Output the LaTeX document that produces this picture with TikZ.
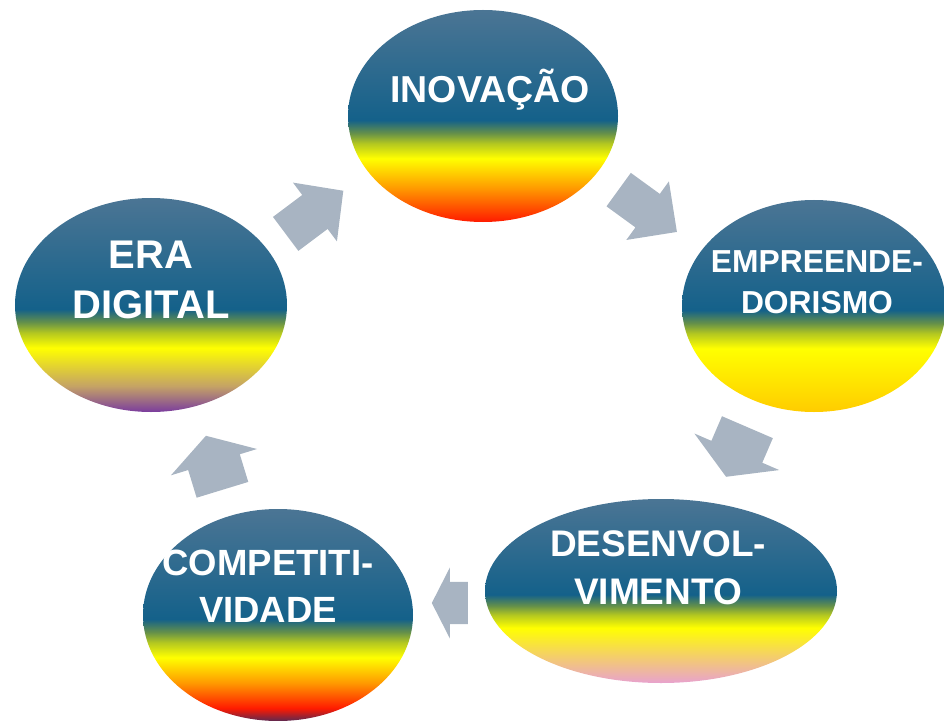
\documentclass[tikz,border=0pt]{standalone}
\usepackage{fontspec}
\setmainfont{Liberation Sans}
\usetikzlibrary{shapes.geometric,shapes.arrows}

\definecolor{slatetop}{HTML}{4B7594}
\definecolor{deepblue}{HTML}{14618A}
\definecolor{bandgreen}{HTML}{64904A}
\definecolor{limeband}{HTML}{B4C820}
\definecolor{sunyellow}{HTML}{FFFF00}
\definecolor{deeporange}{HTML}{FF9A00}
\definecolor{fire}{HTML}{FF1A00}
\definecolor{plum}{HTML}{5C2850}
\definecolor{tanband}{HTML}{C4A266}
\definecolor{violet}{HTML}{7A3C9E}
\definecolor{gold}{HTML}{FFCC00}
\definecolor{apricot}{HTML}{F2C67C}
\definecolor{rosepink}{HTML}{E8A2CE}
\definecolor{arrowgray}{HTML}{A8B4C2}

% every bubble: slate to deep blue on top, a green band into yellow, then its own bottom
\pgfdeclareverticalshading{inovshade}{100bp}{color(0bp)=(fire); color(25bp)=(fire);
  color(33bp)=(deeporange); color(40bp)=(sunyellow); color(43.5bp)=(limeband);
  color(46bp)=(bandgreen); color(49bp)=(deepblue); color(75bp)=(slatetop);
  color(100bp)=(slatetop)}
\pgfdeclareverticalshading{emprshade}{100bp}{color(0bp)=(gold); color(25bp)=(gold);
  color(40bp)=(sunyellow); color(43.5bp)=(limeband);
  color(46bp)=(bandgreen); color(49bp)=(deepblue); color(75bp)=(slatetop);
  color(100bp)=(slatetop)}
\pgfdeclareverticalshading{desenshade}{100bp}{color(0bp)=(rosepink); color(25bp)=(rosepink);
  color(31bp)=(apricot); color(40bp)=(sunyellow); color(43.5bp)=(limeband);
  color(46bp)=(bandgreen); color(49bp)=(deepblue); color(75bp)=(slatetop);
  color(100bp)=(slatetop)}
\pgfdeclareverticalshading{competshade}{100bp}{color(0bp)=(plum); color(25bp)=(plum);
  color(28bp)=(fire); color(34bp)=(deeporange); color(40bp)=(sunyellow); color(43.5bp)=(limeband);
  color(46bp)=(bandgreen); color(49bp)=(deepblue); color(75bp)=(slatetop);
  color(100bp)=(slatetop)}
\pgfdeclareverticalshading{erashade}{100bp}{color(0bp)=(violet); color(25bp)=(violet);
  color(31bp)=(tanband); color(40bp)=(sunyellow); color(43.5bp)=(limeband);
  color(46bp)=(bandgreen); color(49bp)=(deepblue); color(75bp)=(slatetop);
  color(100bp)=(slatetop)}

\tikzset{
  bubble/.style = {ellipse, shade, inner sep=0pt},
  bubbletext/.style = {text=white, align=center, inner sep=0pt},
  cyclearrow/.style = {single arrow, fill=arrowgray, inner xsep=0pt, anchor=tail},
}

\begin{document}
\begin{tikzpicture}[x=1bp, y=-1bp]
\useasboundingbox (0,0) rectangle (944,721);

% Inovacao
\node[bubble, shading=inovshade, minimum width=270bp, minimum height=212bp] (inov) at (483,116) {};
\node[bubbletext, font={\bfseries\fontsize{37.5bp}{48bp}\selectfont}]
  at ([xshift=7bp,yshift=26bp]inov.center) {INOVAÇÃO};

% Empreendedorismo
\node[bubble, shading=emprshade, minimum width=264bp, minimum height=212bp] (empr) at (814,306) {};
\node[bubbletext, font={\bfseries\fontsize{31.8bp}{41bp}\selectfont}]
  at ([xshift=3bp,yshift=24bp]empr.center) {EMPREENDE-\\DORISMO};

% Desenvolvimento
\node[bubble, shading=desenshade, minimum width=352bp, minimum height=184bp] (desen) at (661,591) {};
\node[bubbletext, font={\bfseries\fontsize{37bp}{48bp}\selectfont}]
  at ([xshift=-3bp,yshift=23bp]desen.center) {DESENVOL-\\VIMENTO};

% Competitividade
\node[bubble, shading=competshade, minimum width=270bp, minimum height=212bp] (compet) at (278,615) {};
\node[bubbletext, font={\bfseries\fontsize{36.5bp}{47bp}\selectfont}]
  at ([xshift=-10bp,yshift=29bp]compet.center) {COMPETITI-\\VIDADE};

% Era digital
\node[bubble, shading=erashade, minimum width=272bp, minimum height=214bp] (era) at (151,305) {};
\node[bubbletext, font={\bfseries\fontsize{40bp}{50bp}\selectfont}]
  at ([yshift=25bp]era.center) {ERA\\DIGITAL};

% arrows between the bubbles (shaft = 2 x inner ysep)
\node[cyclearrow, rotate=36.8, minimum height=72bp, inner ysep=21bp,
  single arrow head extend=15.5bp, single arrow tip angle=92] (toinov) at (285.5,234) {};
\node[cyclearrow, rotate=-36, minimum height=72bp, inner ysep=20.5bp,
  single arrow head extend=15.5bp, single arrow tip angle=90] (toempr) at (618.5,189.5) {};
\node[cyclearrow, rotate=-113.3, minimum height=54bp, inner ysep=27.5bp,
  single arrow head extend=18.5bp, single arrow tip angle=119] (todesen) at (747.5,427) {};
\node[cyclearrow, rotate=180, minimum height=36bp, inner ysep=21bp,
  single arrow head extend=14.5bp, single arrow tip angle=126] (tocompet) at (468,603) {};
\node[cyclearrow, rotate=107, minimum height=56.5bp, inner ysep=26.8bp,
  single arrow head extend=18bp, single arrow tip angle=117] (toera) at (222.5,490) {};

\end{tikzpicture}
\end{document}
